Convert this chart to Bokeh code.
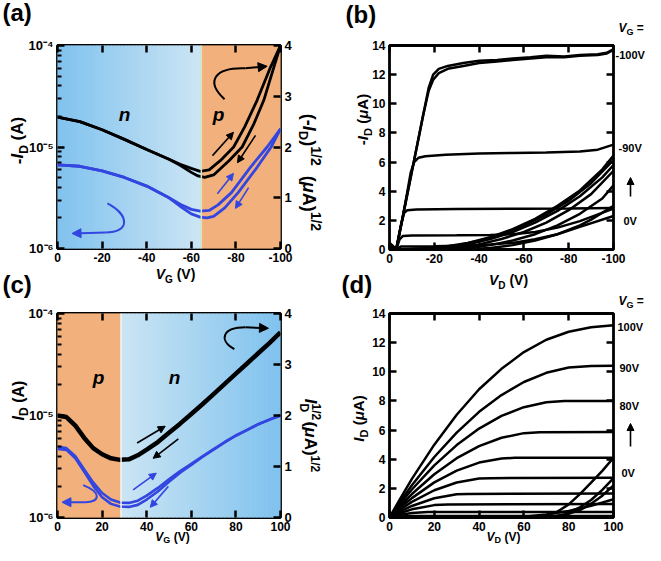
import math
from bokeh.plotting import figure
from bokeh.models import (Range1d, LinearAxis, FixedTicker, Label, Arrow, NormalHead,
                          LinearScale, CustomJSTickFormatter, Span, GridBox)
from bokeh.layouts import row, column
from bokeh.embed import file_html
from bokeh.resources import INLINE

FONT = "Liberation Sans"
BLUE = "#3346e0"
ORANGE = "#f2b07c"
N_DARK = "#80c2ee"
N_LIGHT = "#cce5f4"

# ---------------- data: panel (a) transfer, p-sweep (VG negative) ----------------
a_xticks = [0, -20, -40, -60, -80, -100]
a_boundary = -64.5
a_vg_blk1 = [0, -10, -20, -30, -40, -50, -55, -60, -64, -68, -73, -79, -84, -89.5, -95.5, -100]
a_sq_blk1 = [2.59, 2.50, 2.34, 2.15, 1.95, 1.76, 1.66, 1.58, 1.52, 1.55, 1.73, 2.0, 2.4, 2.92, 3.57, 4.0]
a_vg_blk2 = [0, -10, -20, -30, -40, -50, -55, -60, -63, -66, -70, -76.9, -82.8, -88, -92.5, -97, -100]
a_sq_blk2 = [2.59, 2.50, 2.34, 2.15, 1.95, 1.76, 1.64, 1.50, 1.43, 1.40, 1.45, 1.73, 2.0, 2.45, 2.92, 3.57, 4.0]
a_vg_blu1 = [0, -10, -20, -30, -40, -50, -56, -60, -64, -68, -72, -78, -86.5, -94, -100]
a_id_blu1 = [6.68e-6, 6.46e-6, 5.82e-6, 5.01e-6, 4.12e-6, 3.16e-6, 2.66e-6, 2.43e-6, 2.33e-6,
             2.37e-6, 2.69e-6, 3.55e-6, 6.31e-6, 1.0e-5, 1.51e-5]
a_vg_blu2 = [0, -10, -20, -30, -40, -50, -56, -60, -64, -67, -70, -75, -81, -89.5, -95.8, -100]
a_id_blu2 = [6.68e-6, 6.46e-6, 5.82e-6, 5.01e-6, 4.12e-6, 3.16e-6, 2.51e-6, 2.19e-6, 2.04e-6,
             2.0e-6, 2.07e-6, 2.51e-6, 3.55e-6, 6.31e-6, 1.0e-5, 1.51e-5]

# ---------------- data: panel (c) transfer, n-sweep ----------------
c_xticks = [0, 20, 40, 60, 80, 100]
c_boundary = 28.5
c_vg = [0, 4, 8, 12, 16, 20, 24, 28, 32, 36, 40, 45, 50, 55, 60, 65, 70, 75, 80, 85, 90, 95, 100]
c_sq_blk = [2.0, 1.97, 1.80, 1.56, 1.36, 1.24, 1.16, 1.13, 1.14, 1.22, 1.33, 1.48, 1.66, 1.84,
            2.03, 2.22, 2.42, 2.62, 2.82, 3.02, 3.22, 3.42, 3.63]
c_id_blu1 = [4.93e-6, 4.79e-6, 3.98e-6, 2.95e-6, 2.21e-6, 1.74e-6, 1.50e-6, 1.40e-6, 1.39e-6,
             1.46e-6, 1.64e-6, 1.95e-6, 2.37e-6, 2.85e-6, 3.35e-6, 3.98e-6, 4.68e-6, 5.50e-6,
             6.38e-6, 7.24e-6, 8.22e-6, 9.12e-6, 1.0e-5]
c_id_blu2 = [4.70e-6, 4.60e-6, 3.80e-6, 2.80e-6, 2.04e-6, 1.58e-6, 1.36e-6, 1.28e-6, 1.27e-6,
             1.33e-6, 1.50e-6, 1.80e-6, 2.24e-6, 2.75e-6, 3.28e-6, 3.92e-6, 4.62e-6, 5.45e-6,
             6.33e-6, 7.2e-6, 8.2e-6, 9.1e-6, 1.0e-5]

# ---------------- data: panel (b) output curves, VG = 0 ... -100 V ----------------
b_xticks = [0, -20, -40, -60, -80, -100]
b_yticks = [0, 2, 4, 6, 8, 10, 12, 14]
b_vd = {
    "-100a": [0, -3, -6, -9, -12, -15, -17.5, -19.5, -22, -26, -33, -40, -48, -55, -63, -70, -78, -85, -93, -97, -100],
    "-100b": [0, -3, -6, -9, -12, -15, -17.5, -19.5, -22, -26, -33, -40, -48, -55, -63, -70, -78, -85, -93, -97, -100],
    "-90": [0, -3, -6, -8, -9.5, -11, -13, -16, -25, -40, -55, -70, -85, -93, -100],
    "-80": [0, -3, -5, -6.5, -8, -12, -30, -60, -80, -100],
    "-70": [0, -3, -4.5, -6, -10, -30, -45, -55, -65, -75, -85, -100],
    "-60": [0, -3, -5, -20, -40, -55, -65, -75, -85, -100],
    "0": [0, -5, -15, -25, -35, -45, -55, -65, -75, -85, -95, -100],
    "-10": [0, -10, -20, -30, -40, -50, -60, -70, -80, -90, -100],
    "-20": [0, -15, -25, -35, -45, -55, -65, -75, -85, -95, -100],
    "-30": [0, -20, -30, -40, -50, -60, -70, -80, -90, -100],
    "-40": [0, -25, -35, -45, -55, -65, -75, -85, -95, -100],
    "-50": [0, -35, -45, -55, -65, -75, -85, -90, -100],
}
b_id = {
    "-100a": [0.45, 0.0, 2.3, 4.6, 6.9, 9.2, 11.1, 12.0, 12.4, 12.6, 12.8, 12.95, 13.0, 13.1, 13.2, 13.3, 13.25, 13.35, 13.4, 13.5, 13.75],
    "-100b": [0.45, 0.0, 2.3, 4.6, 6.9, 9.2, 10.9, 11.65, 12.1, 12.4, 12.6, 12.8, 12.9, 13.0, 13.1, 13.2, 13.2, 13.3, 13.35, 13.45, 13.7],
    "-90": [0.4, 0.0, 2.3, 4.0, 5.3, 6.0, 6.3, 6.4, 6.5, 6.58, 6.62, 6.65, 6.72, 6.85, 7.2],
    "-80": [0.3, 0.0, 1.6, 2.5, 2.7, 2.75, 2.78, 2.8, 2.82, 2.85],
    "-70": [0.3, 0.0, 0.7, 0.93, 0.96, 0.98, 1.0, 1.05, 1.2, 1.5, 1.95, 2.8],
    "-60": [0.2, 0.0, 0.2, 0.22, 0.3, 0.45, 0.7, 1.05, 1.55, 2.3],
    "0": [0.0, 0.02, 0.08, 0.2, 0.45, 0.85, 1.4, 2.1, 3.0, 4.05, 5.5, 6.45],
    "-10": [0.0, 0.03, 0.1, 0.28, 0.6, 1.05, 1.65, 2.4, 3.35, 4.55, 6.15],
    "-20": [0.0, 0.03, 0.12, 0.35, 0.72, 1.2, 1.85, 2.65, 3.65, 4.95, 5.8],
    "-30": [0.0, 0.03, 0.12, 0.35, 0.72, 1.2, 1.85, 2.7, 3.8, 5.4],
    "-40": [0.0, 0.02, 0.1, 0.3, 0.62, 1.05, 1.65, 2.45, 3.5, 4.4],
    "-50": [0.0, 0.02, 0.1, 0.3, 0.62, 1.05, 1.65, 2.05, 3.0],
}

# ---------------- data: panel (d) output curves, VG = 0 ... 100 V ----------------
d_xticks = [0, 20, 40, 60, 80, 100]
d_yticks = [0, 2, 4, 6, 8, 10, 12, 14]
d_vd = {
    "100": [0, 5, 10, 20, 30, 40, 50, 60, 70, 80, 90, 100],
    "90": [0, 5, 10, 20, 30, 40, 50, 60, 70, 80, 90, 100],
    "80": [0, 5, 10, 20, 30, 40, 50, 60, 70, 78, 100],
    "70": [0, 5, 10, 20, 30, 40, 50, 60, 67, 100],
    "60": [0, 5, 10, 20, 30, 40, 50, 56, 100],
    "50": [0, 5, 10, 20, 30, 40, 45, 100],
    "40": [0, 5, 10, 20, 30, 35, 100],
    "30": [0, 5, 10, 20, 26, 100],
    "20": [0, 5, 10, 17, 100],
    "10": [0, 5, 10, 100],
    "amb1": [0, 60, 68, 75, 80, 85, 90, 95, 100],
    "amb2": [0, 70, 78, 85, 90, 95, 100],
    "amb3": [0, 75, 85, 90, 95, 100],
    "amb4": [0, 60, 70, 80, 90, 100],
}
d_id = {
    "100": [0, 1.35, 2.65, 5.0, 7.05, 8.8, 10.2, 11.35, 12.2, 12.75, 13.05, 13.2],
    "90": [0, 1.14, 2.21, 4.15, 5.83, 7.25, 8.4, 9.3, 9.93, 10.29, 10.4, 10.42],
    "80": [0, 0.99, 1.92, 3.58, 4.97, 6.1, 6.97, 7.57, 7.91, 8.0, 8.0],
    "70": [0, 0.84, 1.61, 2.97, 4.07, 4.9, 5.47, 5.79, 5.85, 5.87],
    "60": [0, 0.70, 1.33, 2.41, 3.22, 3.77, 4.05, 4.1, 4.1],
    "50": [0, 0.57, 1.07, 1.87, 2.4, 2.67, 2.7, 2.72],
    "40": [0, 0.43, 0.79, 1.32, 1.59, 1.62, 1.64],
    "30": [0, 0.31, 0.56, 0.85, 0.9, 0.92],
    "20": [0, 0.19, 0.31, 0.37, 0.38],
    "10": [0, 0.075, 0.1, 0.11],
    "amb1": [0, 0.0, 0.05, 0.4, 0.9, 1.6, 2.4, 3.2, 4.1],
    "amb2": [0, 0.0, 0.2, 0.7, 1.2, 1.9, 2.7],
    "amb3": [0, 0.05, 0.5, 0.95, 1.5, 2.2],
    "amb4": [0, 0.05, 0.2, 0.45, 0.8, 1.25],
}

# ---------------- helpers ----------------
EMW = {"0": .556, "1": .556, "2": .556, "3": .556, "4": .556, "5": .556, "6": .556, "7": .556,
       "8": .556, "9": .556, " ": .278, "(": .333, ")": .333, "-": .333, "V": .667, "I": .278,
       "A": .722, "D": .722, "G": .778, "μ": .611, "/": .278, "=": .584, "n": .611, "p": .611,
       "a": .556, "b": .611, "c": .556, "d": .611}

W_TOTAL, H_TOTAL = 645, 545
MID = 0.33   # distance (em) from the alphabetic baseline up to the text middle


def tw(s, size):
    return sum(EMW.get(ch, 0.6) for ch in s) * size


def rich(p, pieces, rx, ry, angle=0.0, align="left"):
    """Text pieces on the overlay; (rx, ry) is the baseline anchor in page pixels (y down)."""
    a = math.radians(angle)
    adv = (math.cos(a), -math.sin(a))
    up = (-math.sin(a), -math.cos(a))
    total = sum(tw(pc[0], pc[1]) for pc in pieces if (len(pc) < 5 or pc[4]))
    d = {"left": 0.0, "center": -total / 2.0, "right": -total}[align]
    for pc in pieces:
        t, s, st, rise = pc[0], pc[1], pc[2], pc[3]
        advance = pc[4] if len(pc) > 4 else True
        lead = len(t) - len(t.lstrip(" "))
        dd = d + lead * 0.278 * s
        t2 = t.lstrip(" ")
        r = rise + MID * s
        px = rx + adv[0] * dd + up[0] * r
        py = ry + adv[1] * dd + up[1] * r
        p.add_layout(Label(x=px, y=py, text=t2, text_font=FONT, text_font_size=f"{s}px",
                           text_font_style=st, text_color="black", angle=a,
                           text_align="left", text_baseline="middle"))
        if advance:
            d += tw(t, s)


def style_axis(ax, labels=True, minor=False, size="12px"):
    ax.axis_line_color = None
    ax.major_tick_in = 7
    ax.major_tick_out = 0
    ax.major_tick_line_width = 2.5
    ax.major_tick_line_color = "black"
    ax.minor_tick_in = 4
    ax.minor_tick_out = 0
    ax.minor_tick_line_width = 2
    ax.minor_tick_line_color = "black" if minor else None
    ax.major_label_text_font = FONT
    ax.major_label_text_font_style = "bold"
    ax.major_label_text_font_size = size
    ax.major_label_text_color = "black" if labels else None
    ax.major_label_standoff = 4


HYPHEN_FMT = "return (tick < 0 ? '-' : '') + Math.abs(tick).toFixed(0);"


def make_fig(info, xr, yr, ylog=False):
    w, h = info["w"], info["h"]
    fl, ft, fw, fh = info["fl"], info["ft"], info["fw"], info["fh"]
    p = figure(width=w, height=h, x_range=Range1d(*xr), y_range=Range1d(*yr),
               y_axis_type="log" if ylog else "linear", output_backend="svg",
               toolbar_location=None, title_location=None,
               min_border_left=fl, min_border_right=w - fl - fw,
               min_border_top=ft, min_border_bottom=h - ft - fh)
    p.grid.visible = False
    p.outline_line_color = "black"
    p.outline_line_width = 2.8
    p.outline_line_alpha = 1.0
    p.background_fill_color = "white"
    p.border_fill_color = "white"
    return p


def mix(c1, c2, t):
    a = [int(c1[i:i + 2], 16) for i in (1, 3, 5)]
    b = [int(c2[i:i + 2], 16) for i in (1, 3, 5)]
    return "#%02x%02x%02x" % tuple(round(a[k] + (b[k] - a[k]) * t) for k in range(3))


def gradient(p, x_from, x_to, c_from, c_to, n=40):
    xs = [x_from + (x_to - x_from) * i / n for i in range(n + 1)]
    cols = [mix(c_from, c_to, (i + 0.5) / n) for i in range(n)]
    p.quad(left=xs[:-1], right=xs[1:], bottom=0, top=4, fill_color=cols, line_color=cols,
           line_width=1, y_range_name="sqrt")


def arrow(p, x0, y0, x1, y1, color, size=8, width=2.0, yname="sqrt"):
    p.add_layout(Arrow(x_start=x0, y_start=y0, x_end=x1, y_end=y1, line_color=color,
                       line_width=width,
                       end=NormalHead(size=size, fill_color=color, line_color=color),
                       y_range_name=yname))


def log_axis_setup(p, xticks):
    p.extra_y_ranges = {"sqrt": Range1d(0, 4)}
    p.extra_y_scales = {"sqrt": LinearScale()}
    yax = p.yaxis[0]
    yax.ticker = FixedTicker(ticks=[1e-6, 1e-5, 1e-4],
                             minor_ticks=[k * 10.0 ** e for e in (-6, -5) for k in range(2, 10)])
    yax.formatter = CustomJSTickFormatter(code="""
        const e = Math.round(Math.log10(tick));
        const m = {"-4": "\u207b\u2074", "-5": "\u207b\u2075", "-6": "\u207b\u2076"};
        return "10" + m[String(e)];""")
    style_axis(yax, labels=True, minor=True, size="13px")
    xax = p.xaxis[0]
    xax.ticker = FixedTicker(ticks=xticks)
    xax.formatter = CustomJSTickFormatter(code=HYPHEN_FMT)
    style_axis(xax)
    top = LinearAxis(ticker=FixedTicker(ticks=xticks))
    style_axis(top, labels=False)
    p.add_layout(top, "above")
    right = LinearAxis(y_range_name="sqrt", ticker=FixedTicker(ticks=[0, 1, 2, 3, 4]))
    style_axis(right, size="13px")
    p.add_layout(right, "right")


def lin_axis_setup(p, xticks, yticks):
    p.xaxis[0].ticker = FixedTicker(ticks=xticks)
    p.xaxis[0].formatter = CustomJSTickFormatter(code=HYPHEN_FMT)
    p.yaxis[0].ticker = FixedTicker(ticks=yticks)
    style_axis(p.xaxis[0])
    style_axis(p.yaxis[0])
    top = LinearAxis(ticker=FixedTicker(ticks=xticks))
    style_axis(top, labels=False)
    p.add_layout(top, "above")
    right = LinearAxis(ticker=FixedTicker(ticks=yticks))
    style_axis(right, labels=False)
    p.add_layout(right, "right")


B_ = "bold"
BI = "bold italic"

# ================= panel (a) =================
IA = dict(w=338, h=280, fl=57, ft=45, fw=223, fh=203)
pa = make_fig(IA, (0, -100), (1e-6, 1e-4), ylog=True)
log_axis_setup(pa, a_xticks)
gradient(pa, 0, a_boundary, N_DARK, N_LIGHT)
gradient(pa, a_boundary, -100, ORANGE, ORANGE, n=1)
pa.add_layout(Span(location=a_boundary, dimension="height", line_color="#d4e6c6", line_width=1.5))
pa.line(a_vg_blk1, a_sq_blk1, line_color="black", line_width=2.8, y_range_name="sqrt")
pa.line(a_vg_blk2, a_sq_blk2, line_color="black", line_width=2.8, y_range_name="sqrt")
pa.line(a_vg_blu1, a_id_blu1, line_color=BLUE, line_width=2.8)
pa.line(a_vg_blu2, a_id_blu2, line_color=BLUE, line_width=2.8)

pa.bezier(x0=[-74.9], y0=[2.94], cx0=[-65.9], cy0=[3.31], cx1=[-70.9], cy1=[3.57],
          x1=[-84.3], y1=[3.55], line_color="black", line_width=2, y_range_name="sqrt")
arrow(pa, -84.3, 3.55, -94.0, 3.59, "black", size=9)
pa.bezier(x0=[-22.4], y0=[0.887], cx0=[-32.5], cy0=[0.65], cx1=[-32.5], cy1=[0.315],
          x1=[-21.5], y1=[0.315], line_color=BLUE, line_width=2, y_range_name="sqrt")
arrow(pa, -21.5, 0.315, -6.5, 0.296, BLUE, size=9)
arrow(pa, -69.5, 1.83, -78.9, 2.29, "black", size=7, width=1.6)
arrow(pa, -88.8, 2.23, -80.7, 1.69, "black", size=7, width=1.6)
arrow(pa, -71.7, 1.08, -78.9, 1.48, BLUE, size=7, width=1.6)
arrow(pa, -85.7, 1.20, -79.8, 0.79, BLUE, size=7, width=1.6)

# ================= panel (c) =================
IC = dict(w=338, h=265, fl=57, ft=33, fw=223, fh=204)
pc = make_fig(IC, (0, 100), (1e-6, 1e-4), ylog=True)
log_axis_setup(pc, c_xticks)
gradient(pc, 0, c_boundary, ORANGE, ORANGE, n=1)
gradient(pc, c_boundary, 100, N_LIGHT, N_DARK)
pc.add_layout(Span(location=c_boundary, dimension="height", line_color="#f4f4ee", line_width=1.5))
pc.line(c_vg, c_id_blu1, line_color=BLUE, line_width=2.6)
pc.line(c_vg, c_id_blu2, line_color=BLUE, line_width=2.6)
pc.line(c_vg, c_sq_blk, line_color="black", line_width=4.5, y_range_name="sqrt")

pc.bezier(x0=[79.3], y0=[3.30], cx0=[72.1], cy0=[3.48], cx1=[73.9], cy1=[3.73],
          x1=[84.3], y1=[3.73], line_color="black", line_width=2, y_range_name="sqrt")
arrow(pc, 84.3, 3.73, 94.6, 3.71, "black", size=9)
pc.bezier(x0=[11.5], y0=[0.634], cx0=[19.5], cy0=[0.50], cx1=[19.5], cy1=[0.30],
          x1=[12.4], y1=[0.30], line_color=BLUE, line_width=2, y_range_name="sqrt")
arrow(pc, 12.4, 0.30, 2.0, 0.30, BLUE, size=9)
arrow(pc, 35.7, 1.46, 48.3, 1.79, "black", size=7, width=1.6)
arrow(pc, 54.2, 1.54, 42.9, 1.16, "black", size=7, width=1.6)
arrow(pc, 33.9, 0.54, 44.3, 0.87, BLUE, size=7, width=1.6)
arrow(pc, 49.7, 0.61, 41.6, 0.20, BLUE, size=7, width=1.6)

# ================= panel (b) =================
IB = dict(w=307, h=270, fl=51, ft=45, fw=224, fh=204)
pb = make_fig(IB, (0, -100), (0, 14))
lin_axis_setup(pb, b_xticks, b_yticks)
for k in b_vd:
    pb.line(b_vd[k], b_id[k], line_color="black", line_width=2.5)

# ================= panel (d) =================
ID = dict(w=307, h=275, fl=51, ft=43, fw=224, fh=204)
pd = make_fig(ID, (0, 100), (0, 14))
lin_axis_setup(pd, d_xticks, d_yticks)
for k in d_vd:
    pd.line(d_vd[k], d_id[k], line_color="black", line_width=2.5)

# ================= text overlay (page pixel units) =================
ov = figure(width=W_TOTAL, height=H_TOTAL, x_range=Range1d(0, W_TOTAL), y_range=Range1d(H_TOTAL, 0),
            output_backend="svg", toolbar_location=None, title_location=None,
            x_axis_location=None, y_axis_location=None, min_border=0)
ov.min_border_left = ov.min_border_right = ov.min_border_top = ov.min_border_bottom = 0
ov.grid.visible = False
ov.outline_line_color = None
ov.background_fill_color = None
ov.border_fill_color = None

# panel letters
rich(ov, [("(a)", 24, B_, 0)], 2, 20)
rich(ov, [("(b)", 24, B_, 0)], 345, 22)
rich(ov, [("(c)", 24, B_, 0)], 2, 292)
rich(ov, [("(d)", 24, B_, 0)], 341, 292)
# regime letters
rich(ov, [("n", 19, BI, 0)], 124, 120, align="center")
rich(ov, [("p", 19, BI, 0)], 218, 120, align="center")
rich(ov, [("p", 19, BI, 0)], 98, 383, align="center")
rich(ov, [("n", 19, BI, 0)], 174, 383, align="center")
# panel (a) axis titles
rich(ov, [("-", 17, B_, 0), ("I", 17, BI, 0), ("D", 12, B_, -4), (" (A)", 17, B_, 0)],
     23, 140, angle=90, align="center")
rich(ov, [("V", 14, BI, 0), ("G", 10, B_, -4), (" (V)", 14, B_, 0)], 175, 278, align="center")
rich(ov, [("(-", 18, B_, 0), ("I", 18, BI, 0), ("D", 13, B_, -4), (")", 18, B_, 0),
          ("1/2", 14, B_, 8), ("  (", 18, B_, 0), ("μ", 18, BI, 0), ("A)", 18, B_, 0),
          ("1/2", 14, B_, 8)], 303, 172, angle=-90, align="center")
# panel (c) axis titles
rich(ov, [("I", 16, BI, 0), ("D", 12, B_, -4), (" (A)", 16, B_, 0)], 23, 400, angle=90, align="center")
rich(ov, [("V", 12, BI, 0), ("G", 9, B_, -2), (" (V)", 12, B_, 0)], 172, 540, align="center")
rich(ov, [("I", 17, BI, 0), ("1/2", 12, B_, 8, False), ("D", 12, B_, -4), ("  (", 17, B_, 0),
          ("μ", 17, BI, 0), ("A)", 17, B_, 0), ("1/2", 12, B_, 7)], 304, 435, angle=-90,
     align="center")
# panel (b) axis titles and gate labels
rich(ov, [("-", 15, B_, 0), ("I", 15, BI, 0), ("D", 11, B_, -4), (" (", 15, B_, 0),
          ("μ", 15, BI, 0), ("A)", 15, B_, 0)], 367, 119, angle=90, align="center")
rich(ov, [("V", 14, BI, 0), ("D", 10, B_, -4), (" (V)", 14, B_, 0)], 508, 284, align="center")
rich(ov, [("V", 12, BI, 0), ("G", 9, B_, -3), (" =", 12, B_, 0)], 618, 31)
rich(ov, [("-100V", 11, B_, 0)], 615, 58)
rich(ov, [("-90V", 11, B_, 0)], 618, 151)
rich(ov, [("0V", 11, B_, 0)], 623, 224)
arrow(ov, 630, 196, 630, 177, "black", size=7, width=1.6, yname="default")
# panel (d) axis titles and gate labels
rich(ov, [("I", 15, BI, 0), ("D", 11, B_, -4), (" (", 15, B_, 0), ("μ", 15, BI, 0),
          ("A)", 15, B_, 0)], 363, 418, angle=90, align="center")
rich(ov, [("V", 12, BI, 0), ("D", 9, B_, -2), (" (V)", 12, B_, 0)], 503, 540, align="center")
rich(ov, [("V", 12, BI, 0), ("G", 9, B_, -3), (" =", 12, B_, 0)], 618, 304)
rich(ov, [("100V", 11, B_, 0)], 617, 330)
rich(ov, [("90V", 11, B_, 0)], 619, 371)
rich(ov, [("80V", 11, B_, 0)], 619, 409)
rich(ov, [("0V", 11, B_, 0)], 621, 476)
arrow(ov, 630, 446, 630, 423, "black", size=7, width=1.6, yname="default")

inner = row(column(pa, pc), column(pb, pd))
layout = GridBox(children=[(inner, 0, 0), (ov, 0, 0)])
open("out.html", "w").write(file_html(layout, INLINE))
